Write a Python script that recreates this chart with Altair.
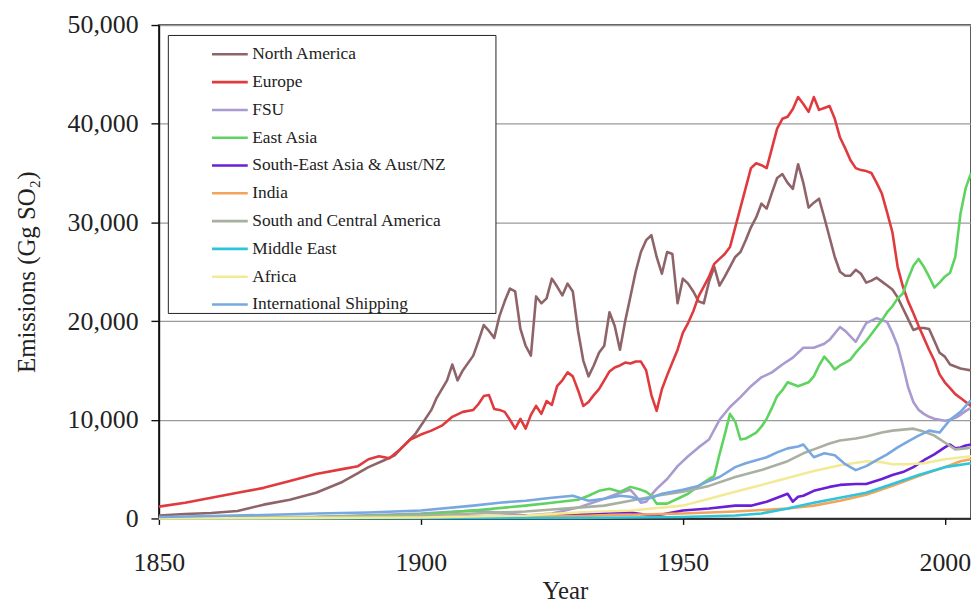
import altair as alt
import pandas as pd

regions = ["North America", "Europe", "FSU", "East Asia", "South-East Asia & Aust/NZ",
           "India", "South and Central America", "Middle East", "Africa", "International Shipping"]
colors = ["#8e6468", "#e03a3e", "#a99bd0", "#5fd35f", "#6a1fd6",
          "#f2a55a", "#a9b0a0", "#2ec4dc", "#f3ea96", "#79a7df"]

na_years = [1850, 1855, 1860, 1865, 1870, 1875, 1880, 1885, 1888, 1890, 1893, 1895, 1897, 1899, 1900,
            1902, 1903, 1905, 1906, 1907, 1908, 1910, 1911, 1912, 1913, 1914, 1915, 1916, 1917, 1918,
            1919, 1920, 1921, 1922, 1923, 1924, 1925, 1926, 1927, 1928, 1929, 1930, 1931, 1932, 1933,
            1934, 1935, 1936, 1937, 1938, 1939, 1940, 1941, 1942, 1943, 1944, 1945, 1946, 1947, 1948,
            1949, 1950, 1951, 1952, 1953, 1954, 1955, 1956, 1957, 1958, 1959, 1960, 1961, 1962, 1963,
            1964, 1965, 1966, 1967, 1968, 1969, 1970, 1971, 1972, 1973, 1974, 1975, 1976, 1977, 1978,
            1979, 1980, 1981, 1982, 1983, 1984, 1985, 1986, 1987, 1988, 1989, 1990, 1991, 1992, 1993,
            1994, 1995, 1996, 1997, 1998, 1999, 2000, 2001, 2002, 2003, 2004, 2005]
na_vals = [300, 450, 550, 750, 1400, 1900, 2600, 3700, 4600, 5200, 5900, 6400, 7500, 8600, 9400,
           11000, 12200, 14000, 15600, 14000, 15000, 16500, 18000, 19600, 19000, 18300, 20500, 22000, 23300, 23000,
           19200, 17500, 16500, 22500, 21800, 22300, 24300, 23500, 22600, 23800, 23000, 19000, 16000, 14400, 15500,
           16800, 17500, 20900, 19500, 17100, 20000, 22500, 25000, 27000, 28200, 28700, 26500, 24800, 27000, 26800,
           21800, 24300, 23800, 23000, 22000, 21800, 24000, 25500, 23600, 24500, 25500, 26500, 27000, 28200, 29500,
           30500, 31900, 31400, 33000, 34500, 34900, 34000, 33400, 35900, 34000, 31500, 32000, 32400, 30500, 28500,
           26500, 25000, 24600, 24600, 25200, 24800, 23900, 24100, 24400, 24000, 23600, 23200, 22400, 21300, 20200,
           19100, 19300, 19300, 19200, 18000, 16800, 16400, 15600, 15400, 15200, 15100, 15000]

eu_years = [1850, 1855, 1860, 1865, 1870, 1875, 1880, 1885, 1888, 1890, 1892, 1894, 1896, 1898, 1900,
            1902, 1904, 1906, 1908, 1910, 1911, 1912, 1913, 1914, 1915, 1916, 1917, 1918, 1919, 1920,
            1921, 1922, 1923, 1924, 1925, 1926, 1927, 1928, 1929, 1930, 1931, 1932, 1933, 1934, 1935,
            1936, 1937, 1938, 1939, 1940, 1941, 1942, 1943, 1944, 1945, 1946, 1947, 1948, 1949, 1950,
            1951, 1952, 1953, 1954, 1955, 1956, 1957, 1958, 1959, 1960, 1961, 1962, 1963, 1964, 1965,
            1966, 1967, 1968, 1969, 1970, 1971, 1972, 1973, 1974, 1975, 1976, 1977, 1978, 1979, 1980,
            1981, 1982, 1983, 1984, 1985, 1986, 1987, 1988, 1989, 1990, 1991, 1992, 1993, 1994, 1995,
            1996, 1997, 1998, 1999, 2000, 2001, 2002, 2003, 2004, 2005]
eu_vals = [1200, 1600, 2100, 2600, 3100, 3800, 4500, 5000, 5300, 6000, 6300, 6100, 7000, 8000, 8500,
           8900, 9400, 10300, 10800, 11000, 11600, 12400, 12500, 11100, 11000, 10800, 10000, 9100, 10100, 9100,
           10500, 11400, 10600, 11900, 11500, 13400, 14000, 14800, 14400, 13000, 11400, 11800, 12500, 13100, 14000,
           14900, 15300, 15500, 15800, 15700, 15900, 15900, 15000, 12500, 10900, 13100, 14500, 15800, 17100, 18800,
           19800, 21000, 22500, 23500, 24500, 25800, 26300, 26800, 27500, 29500, 31500, 33500, 35500, 36000, 35800,
           35500, 37500, 39500, 40500, 40700, 41500, 42700, 42000, 41200, 42700, 41400, 41600, 41800, 40500, 38600,
           37500, 36300, 35500, 35300, 35200, 35000, 34000, 32900, 31000, 29000, 25500, 23500, 22000, 20800, 19500,
           18300, 17100, 16000, 14600, 13800, 13200, 12600, 12200, 11800, 11400]

fsu_years = [1850, 1880, 1900, 1910, 1915, 1920, 1925, 1930, 1935, 1938, 1940, 1941, 1942, 1943, 1944,
             1945, 1947, 1949, 1951, 1953, 1955, 1957, 1959, 1961, 1963, 1965, 1967, 1969, 1971, 1973,
             1975, 1977, 1978, 1980, 1981, 1983, 1985, 1987, 1989, 1990, 1991, 1992, 1993, 1994, 1995,
             1996, 1997, 1998, 1999, 2000, 2001, 2002, 2003, 2004, 2005]
fsu_vals = [50, 150, 500, 800, 600, 300, 500, 1100, 2000, 2600, 2900, 2300, 1600, 1700, 2400,
            3000, 4000, 5300, 6300, 7200, 8000, 10000, 11300, 12300, 13400, 14300, 14800, 15600, 16300, 17300,
            17300, 17700, 18100, 19400, 19000, 17900, 19800, 20300, 19900, 18800, 17500, 15500, 13300, 11800, 11000,
            10600, 10300, 10100, 10000, 9900, 10000, 10200, 10500, 10900, 11200]

ea_years = [1850, 1880, 1900, 1910, 1920, 1925, 1930, 1932, 1934, 1936, 1938, 1940, 1942, 1943, 1944,
            1945, 1947, 1949, 1951, 1953, 1955, 1956, 1957, 1958, 1959, 1960, 1961, 1962, 1963, 1964,
            1965, 1966, 1967, 1968, 1969, 1970, 1971, 1972, 1973, 1974, 1975, 1976, 1977, 1978, 1979,
            1980, 1981, 1982, 1983, 1984, 1985, 1986, 1987, 1988, 1989, 1990, 1991, 1992, 1993, 1994,
            1995, 1996, 1997, 1998, 1999, 2000, 2001, 2002, 2003, 2004, 2005]
ea_vals = [50, 150, 400, 800, 1300, 1600, 1900, 2300, 2800, 3000, 2700, 3200, 2900, 2700, 2300,
           1500, 1500, 2000, 2500, 3300, 4000, 4300, 6500, 8500, 10600, 9800, 8000, 8100, 8400, 8700,
           9300, 10100, 11200, 12400, 13000, 13800, 13600, 13400, 13600, 13800, 14400, 15500, 16400, 15800, 15100,
           15500, 15800, 16100, 16800, 17400, 18000, 18700, 19400, 20100, 20900, 21500, 22300, 22800, 24300, 25600,
           26300, 25500, 24500, 23400, 23900, 24500, 24900, 26500, 30900, 33500, 35000]

sea_years = [1850, 1900, 1920, 1930, 1936, 1940, 1944, 1946, 1950, 1955, 1960, 1963, 1966, 1969, 1970,
             1971, 1972, 1973, 1975, 1978, 1980, 1983, 1985, 1988, 1990, 1992, 1994, 1996, 1998, 2000,
             2001, 2002, 2003, 2004, 2005]
sea_vals = [0, 100, 300, 400, 600, 600, 300, 400, 800, 1000, 1300, 1300, 1700, 2300, 2500,
            1700, 2200, 2300, 2800, 3200, 3400, 3500, 3500, 4000, 4400, 4700, 5200, 5900, 6500, 7200,
            7500, 7100, 7200, 7400, 7500]

ind_years = [1850, 1900, 1930, 1950, 1960, 1965, 1970, 1975, 1980, 1985, 1990, 1995, 2000, 2003, 2005]
ind_vals = [0, 100, 250, 500, 700, 850, 1000, 1300, 1800, 2400, 3300, 4300, 5200, 5800, 6000]

sca_years = [1850, 1880, 1900, 1910, 1920, 1925, 1930, 1935, 1940, 1945, 1950, 1955, 1960, 1965, 1970,
             1973, 1975, 1978, 1980, 1983, 1985, 1988, 1990, 1992, 1994, 1996, 1998, 2000, 2002, 2004, 2005]
sca_vals = [50, 150, 300, 500, 700, 900, 1100, 1300, 1800, 2300, 2700, 3300, 4200, 4900, 5800,
            6600, 7000, 7600, 7900, 8100, 8300, 8700, 8900, 9000, 9100, 8800, 8400, 7700, 7000, 7100, 7200]

me_years = [1850, 1930, 1950, 1960, 1965, 1970, 1975, 1980, 1985, 1990, 1995, 2000, 2005]
me_vals = [0, 50, 150, 300, 500, 1000, 1600, 2100, 2600, 3500, 4400, 5200, 5600]

af_years = [1850, 1900, 1920, 1930, 1940, 1950, 1955, 1960, 1965, 1970, 1975, 1980, 1985, 1988, 1990,
            1993, 1996, 2000, 2005]
af_vals = [0, 100, 300, 600, 800, 1300, 2000, 2700, 3400, 4100, 4800, 5400, 5800, 5700, 5500,
           5500, 5600, 6000, 6300]

sh_years = [1850, 1860, 1870, 1880, 1890, 1900, 1910, 1915, 1920, 1925, 1929, 1932, 1935, 1938, 1940,
            1942, 1944, 1946, 1950, 1953, 1955, 1957, 1960, 1962, 1964, 1966, 1968, 1970, 1972, 1973,
            1975, 1977, 1979, 1981, 1983, 1985, 1987, 1989, 1991, 1993, 1995, 1997, 1999, 2001, 2003, 2005]
sh_vals = [150, 250, 350, 500, 600, 800, 1300, 1600, 1800, 2100, 2300, 1800, 2000, 2300, 2200,
           1900, 2100, 2500, 2900, 3300, 3800, 4200, 5200, 5600, 5900, 6200, 6700, 7100, 7300, 7500,
           6200, 6600, 6400, 5500, 4900, 5300, 5900, 6500, 7200, 7800, 8400, 8900, 8700, 10000, 10800, 12000]

series = [
    (regions[0], na_years, na_vals), (regions[1], eu_years, eu_vals), (regions[2], fsu_years, fsu_vals),
    (regions[3], ea_years, ea_vals), (regions[4], sea_years, sea_vals), (regions[5], ind_years, ind_vals),
    (regions[6], sca_years, sca_vals), (regions[7], me_years, me_vals), (regions[8], af_years, af_vals),
    (regions[9], sh_years, sh_vals),
]
rows = []
for name, ys, vs in series:
    for y, v in zip(ys, vs):
        rows.append({"region": name, "year": y, "value": v})
df = pd.DataFrame(rows)

FONT = "Liberation Serif"

chart = alt.Chart(df).mark_line(strokeWidth=2.6, strokeJoin="round").encode(
    x=alt.X("year:Q",
            scale=alt.Scale(domain=[1850, 2005], nice=False, zero=False),
            axis=alt.Axis(title="Year", values=[1850, 1900, 1950, 2000], format="d", grid=False,
                          labelFlush=False, labelOverlap=False,
                          tickSize=6, labelPadding=25, titlePadding=4,
                          labelFontSize=26, titleFontSize=25, titleFontWeight="normal")),
    y=alt.Y("value:Q",
            scale=alt.Scale(domain=[0, 50000], nice=False),
            axis=alt.Axis(title="Emissions (Gg SO\u2082)", values=[0, 10000, 20000, 30000, 40000, 50000],
                          format=",.0f", grid=True, gridColor="#9a9a9a", gridWidth=1.2,
                          labelFlush=False,
                          tickSize=8, labelPadding=13, titlePadding=28,
                          labelFontSize=26, titleFontSize=25, titleFontWeight="normal")),
    color=alt.Color("region:N",
                    scale=alt.Scale(domain=regions, range=colors),
                    legend=alt.Legend(title=" ", titleOrient="right", titlePadding=48,
                                      orient="none", legendX=9, legendY=10,
                                      symbolType="stroke", symbolSize=1296, symbolStrokeWidth=2.6,
                                      symbolOffset=43, labelOffset=3, rowPadding=-11.6,
                                      labelFont=FONT, labelFontSize=17.5, labelColor="#222",
                                      padding=0, strokeColor="#222", fillColor="white",
                                      labelLimit=400)),
    detail="region:N",
).properties(
    width=818, height=497,
    autosize=alt.AutoSizeParams(type="none"),
    padding={"left": 152, "top": 15, "right": 0, "bottom": 84},
).configure(
    font=FONT,
).configure_axis(
    labelFont=FONT, titleFont=FONT, labelColor="#222", titleColor="#222",
    domainColor="#111", domainWidth=1.6, tickColor="#111", tickWidth=1.4,
).configure_view(
    stroke="#333", strokeWidth=1.6,
)

chart.save("out.html", embed_options={"renderer": "svg", "actions": False})
